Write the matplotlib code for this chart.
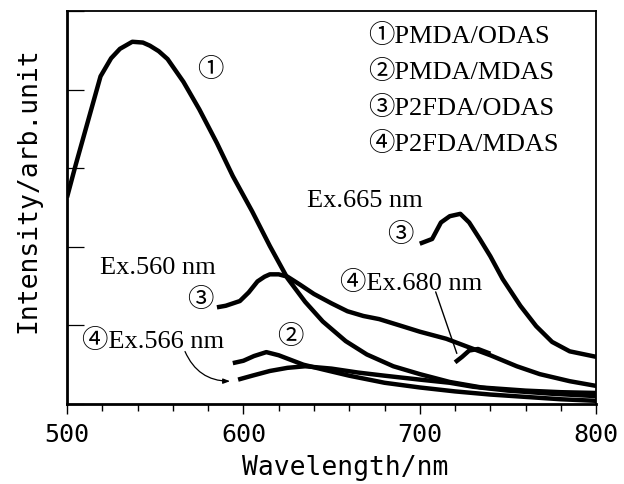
import matplotlib
matplotlib.use("Agg")
import matplotlib.pyplot as plt
from matplotlib.ticker import MultipleLocator, NullFormatter

# ---- data ----
wl1 = [500, 505, 510, 515, 519, 525, 530, 537, 543, 547, 552, 557, 566, 575, 585,
       594, 605, 615, 625, 635, 645, 658, 670, 685, 700, 717, 735, 760, 780, 800]
i1 = [2.63, 3.05, 3.45, 3.85, 4.17, 4.40, 4.52, 4.61, 4.60, 4.56, 4.49, 4.39, 4.10, 3.75, 3.32,
      2.90, 2.45, 2.01, 1.60, 1.30, 1.05, 0.80, 0.63, 0.48, 0.38, 0.28, 0.21, 0.17, 0.15, 0.14]

wl2 = [594, 600, 606, 613, 620, 627, 634, 645, 660, 680, 700, 720, 740, 760, 780, 800]
i2 = [0.52, 0.55, 0.61, 0.66, 0.62, 0.56, 0.50, 0.44, 0.36, 0.27, 0.21, 0.16, 0.12, 0.09, 0.06, 0.04]

wl3a = [585, 590, 598, 603, 608, 612, 615, 620, 625, 632, 640, 650, 659, 668, 677,
        690, 700, 715, 728, 740, 755, 768, 785, 800]
i3a = [1.23, 1.25, 1.31, 1.42, 1.56, 1.62, 1.65, 1.65, 1.62, 1.52, 1.40, 1.28, 1.18, 1.12, 1.08,
       0.99, 0.92, 0.83, 0.72, 0.62, 0.48, 0.38, 0.29, 0.23]

wl3b = [700, 707, 712, 717, 723, 728, 734, 740, 747, 757, 766, 775, 785, 800]
i3b = [2.04, 2.10, 2.31, 2.39, 2.42, 2.31, 2.10, 1.88, 1.59, 1.25, 0.99, 0.79, 0.67, 0.60]

wl4a = [597, 605, 615, 625, 635, 650, 665, 680, 700, 717, 730, 750, 775, 800]
i4a = [0.31, 0.36, 0.42, 0.46, 0.48, 0.45, 0.40, 0.36, 0.31, 0.27, 0.22, 0.17, 0.13, 0.10]

wl4b = [720, 724, 728, 733, 740]
i4b = [0.53, 0.60, 0.68, 0.70, 0.64]

legend_lines = ["①PMDA/ODAS", "②PMDA/MDAS", "③P2FDA/ODAS", "④P2FDA/MDAS"]
xticks = [500, 600, 700, 800]

# ---- figure ----
fig = plt.figure(figsize=(6.24, 4.85), dpi=100)
ax = fig.add_axes([0.1074, 0.165, 0.848, 0.810])

lw = 3.2
for x, y in [(wl1, i1), (wl2, i2), (wl3a, i3a), (wl3b, i3b), (wl4a, i4a), (wl4b, i4b)]:
    ax.plot(x, y, color="black", lw=lw, solid_capstyle="butt", solid_joinstyle="round")

ax.set_xlim(500, 800)
ax.set_ylim(0, 5)
ax.set_xticks(xticks)
ax.xaxis.set_minor_locator(MultipleLocator(20))
ax.yaxis.set_major_locator(MultipleLocator(1))
ax.yaxis.set_major_formatter(NullFormatter())

mono = "DejaVu Sans Mono"
for lab in ax.get_xticklabels():
    lab.set_fontfamily(mono)
    lab.set_fontsize(18)

ax.tick_params(axis="x", which="major", direction="out", length=7, width=1.0, pad=6)
ax.tick_params(axis="x", which="minor", direction="out", length=5, width=1.0)
ax.tick_params(axis="y", which="major", direction="in", length=12, width=0.9, left=True, right=False)

for s in ["left", "bottom"]:
    ax.spines[s].set_linewidth(2.0)
for s in ["top", "right"]:
    ax.spines[s].set_linewidth(1.3)

ax.set_xlabel("Wavelength/nm", fontfamily=mono, fontsize=19)
ax.set_ylabel("Intensity/arb.unit", fontfamily=mono, fontsize=19)
ax.xaxis.set_label_coords(0.526, -0.128)
ax.yaxis.set_label_coords(-0.048, 0.547)

serif = ["Liberation Serif", "Noto Sans CJK JP", "DejaVu Sans"]
fs = 19

# legend-like text block
for k, t in enumerate(legend_lines):
    ax.text(670.5, 4.69 - k * 0.455, t, family=serif, fontsize=fs, ha="left", va="center")

ax.text(581, 4.26, "①", family=serif, fontsize=fs, ha="center", va="center")
ax.text(668.8, 2.60, "Ex.665 nm", family=serif, fontsize=fs, ha="center", va="center")
ax.text(688.7, 2.16, "③", family=serif, fontsize=fs, ha="center", va="center")
ax.text(551.6, 1.74, "Ex.560 nm", family=serif, fontsize=fs, ha="center", va="center")
ax.text(575.4, 1.34, "③", family=serif, fontsize=fs, ha="center", va="center")
ax.text(694.9, 1.55, "④Ex.680 nm", family=serif, fontsize=fs, ha="center", va="center")
ax.text(548.7, 0.81, "④Ex.566 nm", family=serif, fontsize=fs, ha="center", va="center")
ax.text(626.3, 0.87, "②", family=serif, fontsize=fs, ha="center", va="center")

# pointer lines
ax.annotate("", xy=(721.5, 0.61), xytext=(708.5, 1.46),
            arrowprops=dict(arrowstyle="-", color="black", lw=1.0))
ax.annotate("", xy=(594, 0.29), xytext=(566.3, 0.70),
            arrowprops=dict(arrowstyle="-|>,head_length=0.4,head_width=0.15", color="black",
                            lw=0.9, connectionstyle="arc3,rad=0.35"))

fig.savefig("out.png", dpi=100, facecolor="white")
